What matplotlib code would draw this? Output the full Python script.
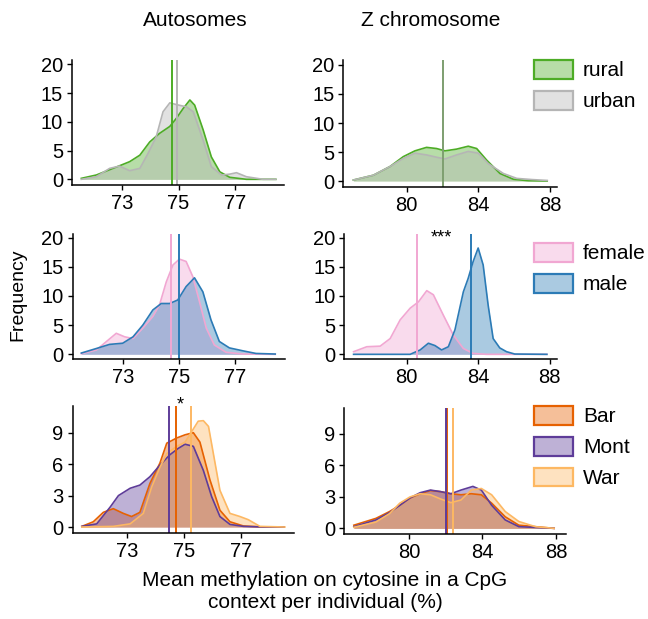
import matplotlib
matplotlib.use('Agg')
import matplotlib.pyplot as plt
from matplotlib.patches import Patch
import numpy as np

plt.rcParams['font.family'] = ['Liberation Sans', 'DejaVu Sans']

# ---- data (x = methylation %, y = frequency) ----
# Autosomes, rural / urban
auto_rural_x = [71.56, 72.09, 72.68, 73.27, 73.63, 73.98, 74.33, 74.69, 74.92, 75.16, 75.40, 75.57, 75.87, 76.16, 76.46, 76.81, 77.4, 78.44]
auto_rural_y = [0.17, 0.75, 1.9, 3.07, 4.2, 6.5, 8.0, 9.2, 10.6, 12.3, 13.8, 12.9, 8.6, 3.9, 1.3, 0.35, 0.0, 0.0]
auto_urban_x = [71.56, 72.09, 72.56, 72.91, 73.27, 73.63, 73.92, 74.21, 74.45, 74.69, 74.92, 75.28, 75.52, 75.87, 76.16, 76.52, 76.81, 77.05, 77.4, 77.99, 78.44]
auto_urban_y = [0.0, 0.45, 1.9, 2.3, 1.5, 1.9, 4.5, 7.4, 11.75, 13.3, 13.0, 12.6, 11.75, 6.8, 2.2, 0.75, 0.9, 1.15, 0.45, 0.0, 0.0]
# Z chromosome, rural / urban
z_rural_x = [77.02, 78.14, 79.07, 79.81, 80.46, 81.11, 81.67, 82.14, 82.79, 83.44, 83.91, 84.47, 85.21, 85.96, 86.8, 87.85]
z_rural_y = [0.17, 1.0, 2.5, 4.2, 5.2, 5.8, 5.6, 5.2, 5.5, 6.0, 5.6, 3.6, 1.3, 0.3, 0.05, 0.0]
z_urban_x = [77.02, 78.14, 79.07, 79.81, 80.46, 81.11, 81.67, 82.14, 82.79, 83.44, 84.0, 84.56, 85.4, 86.15, 87.0, 87.85]
z_urban_y = [0.17, 1.0, 2.5, 3.9, 4.8, 4.5, 4.1, 3.8, 4.5, 5.1, 4.8, 3.0, 1.3, 0.45, 0.25, 0.1]

# Autosomes, female / male
auto_female_x = [71.51, 72.05, 72.41, 72.76, 73.06, 73.36, 73.71, 74.07, 74.31, 74.55, 74.79, 75.02, 75.26, 75.5, 75.74, 75.98, 76.27, 76.69, 77.29, 78.45]
auto_female_y = [0.1, 0.75, 2.2, 3.6, 3.0, 2.7, 4.5, 6.5, 8.5, 12.4, 15.3, 16.3, 15.9, 13.3, 9.0, 4.5, 1.6, 0.35, 0.05, 0.0]
auto_male_x = [71.51, 72.05, 72.52, 72.99, 73.36, 73.71, 74.07, 74.37, 74.67, 74.96, 75.26, 75.56, 75.86, 76.15, 76.45, 76.81, 77.29, 77.76, 78.45]
auto_male_y = [0.22, 1.0, 1.7, 1.9, 3.0, 5.0, 7.6, 8.7, 8.7, 9.3, 11.6, 13.1, 10.7, 5.9, 2.2, 1.1, 0.6, 0.15, 0.05]
# Z chromosome, female / male
z_female_x = [77.02, 77.76, 78.51, 79.07, 79.63, 80.19, 80.66, 81.12, 81.49, 82.05, 82.61, 83.17, 83.72, 84.47, 87.85]
z_female_y = [0.45, 1.3, 1.4, 2.7, 5.9, 7.9, 9.0, 10.9, 10.2, 6.7, 3.3, 1.0, 0.15, 0.0, 0.0]
z_male_x = [77.02, 80.19, 80.75, 81.21, 81.58, 81.95, 82.33, 82.7, 83.17, 83.44, 83.72, 84.0, 84.28, 84.56, 84.84, 85.21, 85.59, 86.05, 87.85]
z_male_y = [0.0, 0.0, 0.75, 1.9, 1.5, 0.75, 1.3, 4.2, 10.7, 13.0, 15.9, 18.2, 15.3, 8.4, 2.7, 1.1, 0.45, 0.05, 0.0]

# Autosomes, Bar / Mont / War
auto_bar_x = [71.43, 71.83, 72.18, 72.53, 72.88, 73.17, 73.46, 73.81, 74.16, 74.4, 74.75, 75.04, 75.33, 75.56, 75.91, 76.26, 76.61, 77.08, 77.78, 78.5]
auto_bar_y = [0.06, 0.5, 1.4, 1.75, 1.3, 1.0, 1.4, 4.15, 6.1, 8.0, 8.5, 8.8, 9.0, 8.1, 4.5, 1.6, 0.5, 0.1, 0.0, 0.0]
auto_mont_x = [71.43, 71.95, 72.42, 72.71, 73.12, 73.46, 73.81, 74.16, 74.51, 74.8, 75.04, 75.33, 75.68, 75.97, 76.26, 76.61, 77.08, 77.78, 78.5]
auto_mont_y = [0.06, 0.3, 1.9, 3.0, 3.7, 4.0, 4.8, 5.9, 6.9, 7.5, 7.9, 7.7, 5.4, 2.9, 1.0, 0.25, 0.06, 0.0, 0.0]
auto_war_x = [71.43, 72.53, 73.12, 73.58, 73.87, 74.16, 74.4, 74.75, 75.04, 75.27, 75.5, 75.68, 75.86, 76.03, 76.26, 76.61, 76.96, 77.25, 77.66, 78.53]
auto_war_y = [0.0, 0.06, 0.3, 1.3, 3.8, 5.7, 7.0, 7.7, 8.1, 9.1, 10.1, 10.15, 9.6, 7.0, 3.5, 1.3, 1.0, 0.7, 0.06, 0.0]
# Z chromosome, Bar / Mont / War
z_bar_x = [77.0, 78.2, 78.94, 79.5, 80.06, 80.61, 81.17, 81.72, 82.28, 82.83, 83.39, 83.94, 84.5, 85.24, 85.98, 87.9]
z_bar_y = [0.3, 0.95, 1.6, 2.2, 2.9, 3.3, 3.6, 3.5, 3.3, 3.2, 3.3, 3.2, 2.4, 1.1, 0.3, 0.0]
z_mont_x = [77.0, 78.2, 78.94, 79.5, 80.06, 80.61, 81.17, 81.72, 82.28, 82.83, 83.48, 83.94, 84.5, 85.24, 85.98, 87.9]
z_mont_y = [0.16, 0.8, 1.5, 2.2, 2.9, 3.4, 3.65, 3.5, 3.3, 3.65, 4.0, 3.65, 2.2, 0.8, 0.16, 0.0]
z_war_x = [77.0, 78.2, 78.94, 79.5, 80.06, 80.61, 81.17, 81.72, 82.28, 82.83, 83.39, 83.94, 84.5, 85.24, 85.98, 86.9, 87.9]
z_war_y = [0.1, 0.6, 1.4, 2.4, 3.0, 3.3, 3.2, 2.8, 2.45, 2.7, 3.65, 3.8, 3.2, 1.6, 0.65, 0.15, 0.0]

# group means (vertical lines)
mean_origin_auto = [74.76, 74.93]
mean_origin_z = [82.05, 82.05]
mean_sex_auto = [74.71, 74.99]
mean_sex_z = [80.59, 83.58]
mean_pop_auto = [74.71, 74.49, 75.24]
mean_pop_z = [82.09, 82.02, 82.39]

# ---- colours ----
col = {'rural': '#4dac26', 'urban': '#b5b5b5',
       'female': '#f1a7d2', 'male': '#2c7bb6',
       'Bar': '#e66101', 'Mont': '#5e3c99', 'War': '#fdb863'}
ALPHA = 0.4

fig = plt.figure(figsize=(6.48, 6.19), dpi=100)
W, H = 648., 619.

def add_panel(l, r, t, b):
    return fig.add_axes([l / W, 1 - b / H, (r - l) / W, (b - t) / H])

def style(ax, xl, yl, xt, yt):
    ax.set_xlim(xl)
    ax.set_ylim(yl)
    ax.set_xticks(xt)
    ax.set_yticks(yt)
    ax.spines['right'].set_visible(False)
    ax.spines['top'].set_visible(False)
    for s in ('left', 'bottom'):
        ax.spines[s].set_linewidth(1.1)
    ax.tick_params(labelsize=14.5, length=3.5, width=1.0, pad=3)

def dens(ax, x, y, name, lw=1.2):
    ax.fill_between(x, 0, y, color=col[name], alpha=ALPHA, lw=0)
    ax.plot(x, y, color=col[name], lw=lw)

# --- row 1 : origin ---
ax = add_panel(72, 284, 60, 185.3)
dens(ax, auto_rural_x, auto_rural_y, 'rural')
dens(ax, auto_urban_x, auto_urban_y, 'urban')
ax.axvline(mean_origin_auto[1], color=col['urban'], lw=1.4)
ax.axvline(mean_origin_auto[0], color=col['rural'], lw=1.4)
style(ax, (71.23, 78.73), (-1.04, 20.75), [73, 75, 77], [0, 5, 10, 15, 20])

ax = add_panel(343.3, 556.7, 60, 186.7)
dens(ax, z_rural_x, z_rural_y, 'rural')
dens(ax, z_urban_x, z_urban_y, 'urban')
ax.axvline(mean_origin_z[1], color='#999999', lw=1.4)
ax.axvline(mean_origin_z[0], color=col['rural'], lw=1.4, alpha=0.35)
style(ax, (76.46, 88.38), (-0.98, 20.86), [80, 84, 88], [0, 5, 10, 15, 20])

# --- row 2 : sex ---
ax = add_panel(72.7, 285, 234, 359)
dens(ax, auto_female_x, auto_female_y, 'female')
dens(ax, auto_male_x, auto_male_y, 'male')
ax.axvline(mean_sex_auto[0], color=col['female'], lw=1.4)
ax.axvline(mean_sex_auto[1], color=col['male'], lw=1.4)
style(ax, (71.2, 78.8), (-0.8, 20.6), [73, 75, 77], [0, 5, 10, 15, 20])

ax = add_panel(344.3, 556.7, 234, 359)
dens(ax, z_female_x, z_female_y, 'female')
dens(ax, z_male_x, z_male_y, 'male')
ax.axvline(mean_sex_z[0], color=col['female'], lw=1.4)
ax.axvline(mean_sex_z[1], color=col['male'], lw=1.4)
ax.text(81.95, 20.0, '***', ha='center', va='center', fontsize=13)
style(ax, (76.5, 88.4), (-0.8, 20.6), [80, 84, 88], [0, 5, 10, 15, 20])

# --- row 3 : population ---
ax = add_panel(72.7, 294, 406, 533.3)
dens(ax, auto_bar_x, auto_bar_y, 'Bar')
dens(ax, auto_mont_x, auto_mont_y, 'Mont')
dens(ax, auto_war_x, auto_war_y, 'War')
ax.axvline(mean_pop_auto[1], color=col['Mont'], lw=1.4)
ax.axvline(mean_pop_auto[0], color=col['Bar'], lw=1.4)
ax.axvline(mean_pop_auto[2], color=col['War'], lw=1.4)
ax.text(74.86, 11.6, '*', ha='center', va='center', fontsize=13, clip_on=False)
style(ax, (71.11, 78.85), (-0.6, 11.55), [73, 75, 77], [0, 3, 6, 9])

ax = add_panel(344.3, 565.7, 408.3, 534)
dens(ax, z_bar_x, z_bar_y, 'Bar')
dens(ax, z_mont_x, z_mont_y, 'Mont')
dens(ax, z_war_x, z_war_y, 'War')
ax.axvline(mean_pop_z[0], color=col['Bar'], lw=1.4)
ax.axvline(mean_pop_z[1], color=col['Mont'], lw=1.4)
ax.axvline(mean_pop_z[2], color=col['War'], lw=1.4)
style(ax, (76.48, 88.53), (-0.54, 11.45), [80, 84, 88], [0, 3, 6, 9])

# ---- legends ----
def legend(names, top):
    handles = [Patch(facecolor=matplotlib.colors.to_rgba(col[n], ALPHA), edgecolor=col[n], lw=1.6)
               for n in names]
    fig.legend(handles, names, loc='upper left', bbox_to_anchor=(534 / W, 1 - top / H),
               frameon=False, fontsize=15, handlelength=1.85, handleheight=1.0,
               handletextpad=0.5, labelspacing=0.5, borderpad=0, borderaxespad=0)

legend(['rural', 'urban'], 60)
legend(['female', 'male'], 243)
legend(['Bar', 'Mont', 'War'], 406)

# ---- titles / labels ----
fig.text(195 / W, 1 - 20 / H, 'Autosomes', ha='center', va='center', fontsize=15)
fig.text(431 / W, 1 - 20 / H, 'Z chromosome', ha='center', va='center', fontsize=15)
fig.text(18 / W, 1 - 295 / H, 'Frequency', ha='center', va='center', rotation=90, fontsize=14)
fig.text(325 / W, 1 - 591 / H, 'Mean methylation on cytosine in a CpG\ncontext per individual (%)',
         ha='center', va='center', fontsize=15, linespacing=1.2)

fig.savefig('out.png', dpi=100)
